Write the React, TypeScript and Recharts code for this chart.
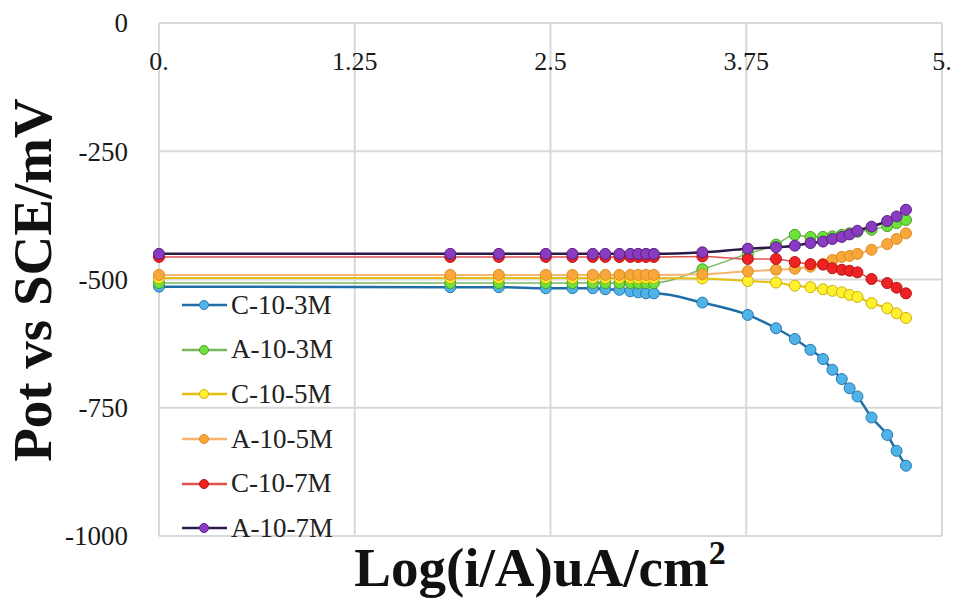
import { CartesianGrid, Legend, Line, LineChart, XAxis, YAxis } from "recharts";

// log current density, shared by every curve
const LOG_I = [
  0, 1.86, 2.17, 2.47, 2.64, 2.77, 2.85, 2.94, 3.01, 3.06, 3.11, 3.16, 3.47, 3.76, 3.94, 4.06, 4.16, 4.24, 4.3,
  4.36, 4.41, 4.46, 4.55, 4.65, 4.71, 4.77,
];

const C_10_3M = [
  -514, -515, -515, -517, -517, -517, -519, -520, -523, -525, -527, -527, -545, -569, -595, -616, -637, -655, -676,
  -694, -712, -728, -769, -803, -834, -863,
];
const A_10_3M = [
  -507, -507, -507, -507, -507, -507, -507, -507, -507, -507, -507, -507, -480, -450, -432, -413, -417, -417, -416,
  -413, -410, -407, -403, -396, -390, -384,
];
const C_10_5M = [
  -497, -497, -497, -497, -497, -497, -497, -497, -497, -497, -497, -497, -498, -503, -506, -512, -515, -519, -522,
  -525, -530, -534, -546, -556, -566, -575,
];
const A_10_5M = [
  -491, -491, -491, -491, -491, -491, -491, -491, -491, -491, -491, -491, -490, -484, -481, -479, -475, -470, -462,
  -456, -454, -450, -442, -431, -421, -410,
];
const C_10_7M = [
  -456, -456, -456, -456, -456, -456, -456, -456, -456, -456, -456, -456, -455, -460, -460, -466, -470, -471, -478,
  -481, -483, -486, -499, -507, -516, -527,
];
const A_10_7M = [
  -450, -450, -450, -450, -450, -450, -450, -450, -450, -450, -450, -450, -447, -440, -437, -434, -429, -426, -421,
  -417, -412, -405, -397, -386, -377, -364,
];

const X_TICKS = [0, 1.25, 2.5, 3.75, 5];
const Y_TICKS = [-1000, -750, -500, -250, 0];

const SERIF = "'Liberation Serif', 'Times New Roman', serif";

const SERIES = [
  { key: "c3", name: "C-10-3M", values: C_10_3M, line: "#1f6ea8", fill: "#4fb3e8", edge: "#2879b0", width: 2.5 },
  { key: "a3", name: "A-10-3M", values: A_10_3M, line: "#78b860", fill: "#6ee23c", edge: "#4a9e22", width: 1.5 },
  { key: "c5", name: "C-10-5M", values: C_10_5M, line: "#e6bf10", fill: "#fff030", edge: "#cdb000", width: 2 },
  { key: "a5", name: "A-10-5M", values: A_10_5M, line: "#f6b46e", fill: "#f8a83a", edge: "#de8a22", width: 2 },
  { key: "c7", name: "C-10-7M", values: C_10_7M, line: "#e05050", fill: "#ee2222", edge: "#b81414", width: 1.5 },
  { key: "a7", name: "A-10-7M", values: A_10_7M, line: "#2b1a48", fill: "#8a3cc0", edge: "#5a1f88", width: 2.5 },
];

const chartData = LOG_I.map((x, i) => {
  const row: Record<string, number> = { x };
  SERIES.forEach((s) => {
    row[s.key] = s.values[i];
  });
  return row;
});

// x labels sit just under the top edge of the plot (axis crosses at 0 mV)
function XTick({ x, payload }: { x?: number; payload?: { value: number } }) {
  const v = payload?.value ?? 0;
  const text = v === 0 ? "0." : v === 5 ? "5." : String(v);
  return (
    <text x={x} y={70} textAnchor="middle" fill="#1a1a1a" fontSize={26} fontFamily={SERIF}>
      {text}
    </text>
  );
}

function YTick({ x, y, payload }: { x?: number; y?: number; payload?: { value: number } }) {
  return (
    <text x={x} y={y} dy="0.35em" textAnchor="end" fill="#1a1a1a" fontSize={27} fontFamily={SERIF}>
      {payload?.value}
    </text>
  );
}

function LegendBox() {
  return (
    <div style={{ fontFamily: SERIF }}>
      {SERIES.map((s) => (
        <div key={s.key} style={{ display: "flex", alignItems: "center", height: 44.6 }}>
          <svg width={50} height={20}>
            <line x1={2} x2={47} y1={10} y2={10} stroke={s.line} strokeWidth={2.5} />
            <circle cx={24} cy={10} r={4.5} fill={s.fill} stroke={s.edge} strokeWidth={1} />
          </svg>
          <span style={{ fontSize: 27, color: "#222", marginLeft: 1, lineHeight: 1 }}>{s.name}</span>
        </div>
      ))}
    </div>
  );
}

export default function App() {
  return (
    <div style={{ position: "absolute", left: 0, top: 0, width: 958, height: 599, background: "#fff" }}>
      <LineChart width={958} height={599} data={chartData} margin={{ top: 23, right: 16, bottom: 0, left: 0 }}>
        <CartesianGrid stroke="#d9d9d9" strokeWidth={2} />
        <XAxis
          dataKey="x"
          type="number"
          height={63}
          domain={[0, 5]}
          ticks={X_TICKS}
          axisLine={false}
          tickLine={false}
          tick={<XTick />}
          label={{
            content: () => (
              <text x={540} y={586} textAnchor="middle" fill="#111" fontSize={55} fontWeight="bold" fontFamily={SERIF}>
                Log(i/A)uA/cm
                <tspan fontSize={34} dy={-22}>
                  2
                </tspan>
              </text>
            ),
          }}
        />
        <YAxis
          type="number"
          width={159}
          domain={[-1000, 0]}
          ticks={Y_TICKS}
          axisLine={false}
          tickLine={false}
          tickSize={0}
          tickMargin={31}
          tick={<YTick />}
          label={{
            content: () => (
              <text
                x={51}
                y={280}
                transform="rotate(-90 51 280)"
                textAnchor="middle"
                fill="#111"
                fontSize={55}
                fontWeight="bold"
                fontFamily={SERIF}
              >
                Pot vs SCE/mV
              </text>
            ),
          }}
        />
        <Legend
          layout="vertical"
          align="center"
          verticalAlign="middle"
          content={<LegendBox />}
          wrapperStyle={{ left: 180, top: 283, width: 200, height: 270 }}
        />
        {SERIES.map((s) => (
          <Line
            key={s.key}
            dataKey={s.key}
            name={s.name}
            type="monotone"
            stroke={s.line}
            strokeWidth={s.width}
            dot={{ r: 5.5, fill: s.fill, stroke: s.edge, strokeWidth: 1, fillOpacity: 1 }}
            activeDot={false}
            isAnimationActive={false}
          />
        ))}
      </LineChart>
    </div>
  );
}
